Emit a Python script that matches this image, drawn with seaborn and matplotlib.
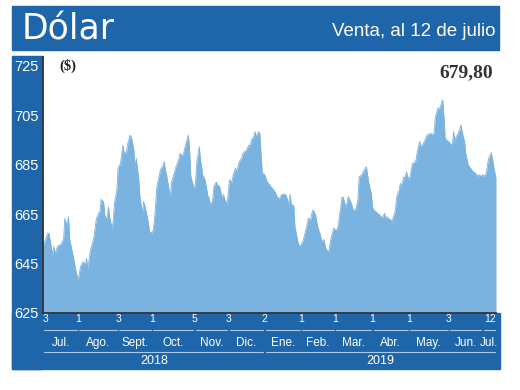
import pandas as pd
import matplotlib.pyplot as plt
import matplotlib.transforms as mtransforms
from matplotlib.patches import Rectangle
import seaborn as sns

# ---------------- DATOS ----------------
# dias desde el 3 de julio de 2018, valor del dolar (venta)
dias = [0, 2, 4, 5, 6, 8, 9, 10, 12, 15, 17, 18, 20, 21, 22, 24, 25, 27, 29, 31,
        33, 35, 36, 37, 39, 42, 44, 46, 47, 48, 50, 51, 53, 54, 55, 57, 58, 59, 61, 62,
        64, 66, 67, 69, 70, 72, 73, 75, 76, 77, 79, 80, 82, 83, 84, 86, 87, 88, 90, 91,
        92, 94, 95, 97, 99, 100, 101, 102, 104, 105, 106, 108, 110, 112, 113, 115, 116, 118, 120, 121,
        122, 123, 125, 126, 127, 129, 130, 132, 133, 134, 136, 137, 138, 140, 141, 143, 144, 146, 148, 149,
        150, 152, 153, 154, 156, 157, 159, 160, 162, 164, 165, 168, 170, 171, 172, 174, 175, 176, 178, 179,
        181, 183, 185, 188, 190, 192, 193, 195, 196, 198, 200, 201, 203, 204, 205, 207, 208, 210, 211, 212,
        214, 215, 216, 218, 219, 221, 222, 223, 225, 226, 227, 229, 230, 232, 233, 234, 236, 237, 238, 240,
        241, 243, 244, 245, 247, 248, 250, 251, 252, 254, 255, 256, 258, 260, 261, 263, 265, 267, 268, 269,
        271, 272, 273, 275, 276, 278, 279, 280, 282, 283, 284, 285, 287, 288, 289, 291, 292, 294, 295, 296,
        298, 299, 300, 302, 303, 305, 306, 308, 309, 311, 312, 314, 316, 317, 320, 322, 323, 324, 326, 327,
        329, 330, 331, 332, 333, 335, 336, 338, 339, 340, 341, 342, 344, 345, 346, 348, 349, 351, 353, 355,
        357, 359, 360, 362, 363, 364, 366, 367, 368, 370, 371, 372, 373, 374]
valores = [651.8, 654.6, 657.5, 657.0, 653.9, 648.5, 652.0, 649.0, 652.0, 653.0, 655.0, 663.3, 660.0, 664.0, 655.0, 650.0, 648.0, 642.4, 638.4, 643.8,
           645.8, 644.5, 647.0, 643.0, 650.0, 655.5, 663.0, 665.5, 666.0, 671.0, 670.0, 664.5, 663.0, 668.0, 664.0, 659.0, 662.7, 669.5, 675.0, 683.6,
           685.6, 693.0, 689.6, 690.3, 693.6, 697.0, 696.0, 691.0, 683.6, 687.6, 679.5, 672.0, 665.3, 670.0, 668.6, 664.0, 661.3, 658.0, 657.3, 658.7,
           662.7, 676.0, 678.5, 683.0, 684.6, 686.3, 683.0, 681.0, 675.0, 671.0, 677.7, 681.0, 684.6, 687.0, 689.6, 688.6, 689.6, 693.6, 697.0, 691.0,
           680.5, 678.4, 675.0, 678.4, 686.0, 692.3, 687.0, 680.5, 679.8, 678.4, 672.5, 671.7, 669.0, 670.3, 676.0, 678.0, 677.0, 676.0, 671.0, 673.0,
           671.0, 669.0, 673.7, 679.0, 677.7, 681.0, 683.6, 682.3, 686.3, 687.6, 689.6, 691.0, 693.0, 692.3, 695.0, 696.3, 698.4, 696.3, 698.4, 697.7,
           681.6, 681.0, 678.2, 676.3, 675.0, 673.7, 672.3, 671.0, 672.3, 673.2, 673.0, 672.3, 669.0, 673.0, 669.0, 668.3, 660.0, 654.7, 652.7, 652.0,
           653.3, 654.7, 656.7, 660.7, 663.4, 662.7, 665.4, 666.7, 664.7, 662.0, 659.4, 656.7, 654.0, 654.7, 652.0, 650.5, 649.8, 653.2, 655.8, 659.4,
           658.7, 658.7, 661.3, 665.4, 672.1, 671.5, 668.0, 669.5, 672.1, 670.0, 668.8, 666.7, 666.7, 670.7, 680.2, 680.8, 682.8, 684.2, 680.8, 677.4,
           673.4, 668.0, 666.7, 666.0, 665.4, 664.7, 664.0, 663.4, 665.4, 662.7, 664.0, 663.4, 662.7, 662.0, 663.4, 666.7, 672.1, 674.8, 677.4, 676.7,
           680.2, 679.5, 682.2, 678.8, 680.2, 685.6, 685.6, 686.9, 690.3, 694.4, 692.3, 693.6, 695.7, 697.0, 697.7, 697.0, 698.4, 704.5, 708.0, 707.2,
           709.9, 711.2, 704.5, 695.7, 695.0, 694.4, 693.7, 693.0, 698.4, 694.4, 696.3, 697.0, 699.0, 701.1, 698.4, 694.4, 689.6, 685.0, 683.6, 682.3,
           681.6, 680.2, 681.0, 680.2, 681.0, 680.2, 681.6, 685.0, 687.6, 689.9, 687.6, 684.5, 682.0, 679.8]

inicio = pd.Timestamp("2018-07-03")
fin = pd.Timestamp("2019-07-12")

# limites de cada mes en el eje (el 1 de julio 2019 no lleva etiqueta)
limites = ["2018-07-03", "2018-08-01", "2018-09-03", "2018-10-01", "2018-11-05", "2018-12-03",
           "2019-01-02", "2019-02-01", "2019-03-01", "2019-04-01", "2019-05-01", "2019-06-03",
           "2019-07-01", "2019-07-12"]
etiquetas_dia = ["3", "1", "3", "1", "5", "3", "2", "1", "1", "1", "1", "3", "", "12"]
meses = ["Jul.", "Ago.", "Sept.", "Oct.", "Nov.", "Dic.", "Ene.", "Feb.", "Mar.", "Abr.",
         "May.", "Jun.", "Jul."]
anios = ["2018", "2019"]
limites_anio = ["2018-07-03", "2019-01-02", "2019-07-12"]
y_ticks = [625, 645, 665, 685, 705, 725]

# ---------------- ESTILO ----------------
AZUL = "#1f65a9"
RELLENO = "#7bb3e0"
LINEA = "#a9c9e9"
NARROW = ["Liberation Sans Narrow", "Liberation Sans", "DejaVu Sans"]
SERIF = ["Liberation Serif", "DejaVu Serif"]

sns.set_style("white")
plt.rcParams["font.family"] = NARROW

W, H = 520, 390


def fx(px):
    return px / W


def fy(py):
    return (H - py) / H


fig = plt.figure(figsize=(5.2, 3.9), dpi=100)

# bandas azules (detras de los ejes)
for x0, y0, x1, y1 in [(12, 6, 499, 50), (12, 56, 42, 369), (12, 313, 500, 369)]:
    fig.patches.append(Rectangle((fx(x0), fy(y1)), fx(x1) - fx(x0), fy(y0) - fy(y1),
                                 transform=fig.transFigure, color=AZUL, zorder=-5))

fig.text(fx(22), fy(29), "Dólar", color="white", fontsize=25,
         family=["DejaVu Sans"], va="center", ha="left")
fig.text(fx(495), fy(31), "Venta, al 12 de julio", color="white", fontsize=13.5,
         va="center", ha="right")

# ---------------- GRAFICO ----------------
ax = fig.add_axes([fx(43), fy(313), fx(496) - fx(43), fy(57) - fy(313)])
ax.patch.set_alpha(0)

df = pd.DataFrame({"fecha": inicio + pd.to_timedelta(dias, unit="D"), "valor": valores})
ax.fill_between(df["fecha"], df["valor"], 625, color=RELLENO, lw=0)
sns.lineplot(data=df, x="fecha", y="valor", ax=ax, color=RELLENO, lw=0.6)

ax.set_xlim(inicio, fin)
ax.set_ylim(625, 728.6)
ax.set_xlabel("")
ax.set_ylabel("")

ax.set_yticks(y_ticks)
ax.set_yticklabels([str(v) for v in y_ticks], color="white", fontsize=10.5)
ax.tick_params(axis="y", direction="in", length=10, width=1.8, color="#222222", pad=3)
ax.set_xticks([fin])
ax.set_xticklabels([""])
ax.tick_params(axis="x", direction="in", length=7, width=1.5, color="#222222")

for s in ["top", "right"]:
    ax.spines[s].set_visible(False)
for s in ["left", "bottom"]:
    ax.spines[s].set_color("#333333")
    ax.spines[s].set_linewidth(1.3)

fig.text(fx(59), fy(66), "($)", fontsize=10.5, fontweight="bold", family=SERIF,
         va="center", ha="left", color="#222222")
fig.text(fx(493), fy(73), "679,80", fontsize=14, fontweight="bold", family=SERIF,
         va="center", ha="right", color="#333333")

# ---------------- EJE DE FECHAS ----------------
tr = mtransforms.blended_transform_factory(ax.transData, fig.transFigure)
lim = pd.to_datetime(limites)

for i, (d, t) in enumerate(zip(lim, etiquetas_dia)):
    if not t:
        continue
    ha = "left" if i == 0 else ("right" if i == len(lim) - 1 else "center")
    ax.text(d, fy(319), t, transform=tr, ha=ha, va="center", color="white",
            fontsize=7.5, clip_on=False)

gap = pd.Timedelta(days=1)
for i, mes in enumerate(meses):
    a, b = lim[i], lim[i + 1]
    ax.plot([a + gap, b - gap], [fy(330), fy(330)], transform=tr, color=LINEA,
            lw=0.8, clip_on=False)
    ax.text(a + (b - a) / 2, fy(343), mes, transform=tr, ha="center", va="center",
            color="white", fontsize=8.5, clip_on=False)

lim_a = pd.to_datetime(limites_anio)
for i, anio in enumerate(anios):
    a, b = lim_a[i], lim_a[i + 1]
    ax.plot([a + gap, b - gap], [fy(352), fy(352)], transform=tr, color=LINEA,
            lw=0.8, clip_on=False)
    ax.text(a + (b - a) / 2, fy(361), anio, transform=tr, ha="center", va="center",
            color="white", fontsize=9, clip_on=False)

fig.savefig("out.png", dpi=100)
